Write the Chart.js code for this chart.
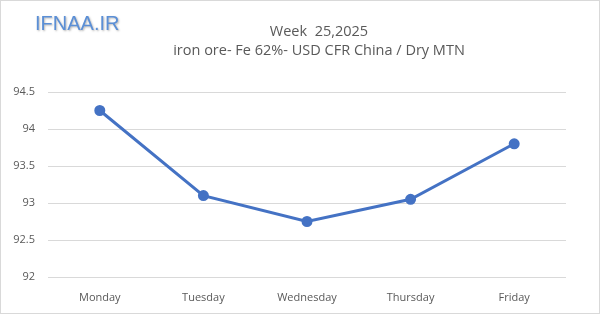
<!DOCTYPE html>
<html><head><meta charset="utf-8">
<script src="https://cdn.jsdelivr.net/npm/chart.js@4"></script>
<style>html,body{margin:0;padding:0;background:#fff}#wrap{width:600px;height:314px;position:relative}</style>
</head><body><div id="wrap"><canvas id="c" width="600" height="314"></canvas></div>
<script>
const categories = ['Monday','Tuesday','Wednesday','Thursday','Friday'];
const prices = [94.25, 93.1, 92.75, 93.05, 93.8];
const titleLines = ['Week  25,2025', 'iron ore- Fe 62%- USD CFR China / Dry MTN'];
const watermark = 'IFNAA.IR';

const deco = {
  id: 'deco',
  afterDraw(chart) {
    const ctx = chart.ctx;
    ctx.save();
    ctx.strokeStyle = '#d9d9d9';
    ctx.lineWidth = 1;
    ctx.strokeRect(0.5, 0.5, 599, 313);
    ctx.fillStyle = '#595959';
    ctx.textAlign = 'center';
    ctx.textBaseline = 'middle';
    ctx.font = '14.5px "Open Sans", sans-serif';
    ctx.fillText(titleLines[0], 319, 32);
    ctx.fillText(titleLines[1], 319, 51);
    ctx.textAlign = 'left';
    ctx.textBaseline = 'alphabetic';
    ctx.font = '20px "Liberation Sans", Arial, sans-serif';
    ctx.shadowColor = 'rgba(90,90,90,0.45)';
    ctx.shadowOffsetX = 1; ctx.shadowOffsetY = 1; ctx.shadowBlur = 2;
    ctx.fillStyle = '#5b8fd6';
    ctx.fillText(watermark, 35, 30);
    ctx.restore();
  }
};

new Chart(document.getElementById('c'), {
  type: 'line',
  data: { labels: categories, datasets: [{
    data: prices, borderColor: '#4472c4', backgroundColor: '#4472c4',
    borderWidth: 3, pointRadius: 4, pointHoverRadius: 4, tension: 0
  }]},
  options: {
    responsive: false, animation: false,
    layout: { padding: { top: 92, right: 34, bottom: 3, left: 0 } },
    plugins: { legend: { display: false }, tooltip: { enabled: false }, title: { display: false } },
    scales: {
      x: { offset: true, grid: { display: false }, border: { display: false },
        afterFit(s) { s.height = 34; },
        ticks: { color: '#595959', font: { family: '"Open Sans", sans-serif', size: 11 }, padding: 6, maxRotation: 0 } },
      y: { min: 92, max: 94.5, grid: { color: '#d9d9d9', drawTicks: false }, border: { display: false },
        afterFit(s) { s.width = 48; },
        ticks: { stepSize: 0.5, color: '#595959', font: { family: '"Open Sans", sans-serif', size: 11 }, padding: 13,
          callback: v => String(Math.round(v * 10) / 10) } }
    }
  },
  plugins: [deco]
});
</script></body></html>
